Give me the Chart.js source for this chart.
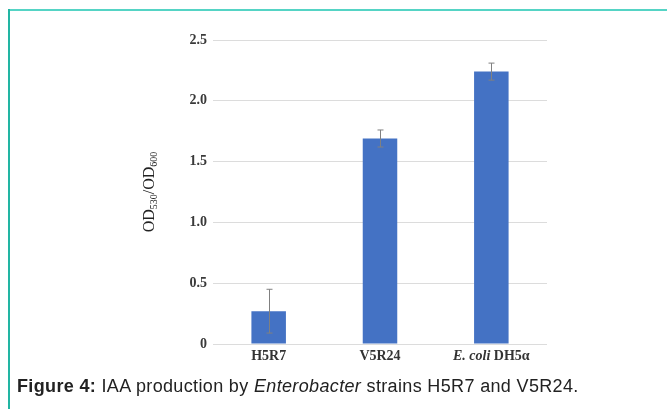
<!DOCTYPE html>
<html>
<head>
<meta charset="utf-8">
<script src="https://cdn.jsdelivr.net/npm/chart.js@4/dist/chart.umd.min.js"></script>
<style>
  html, body { margin: 0; padding: 0; background: #fff; }
  #wrap { position: relative; width: 667px; height: 409px; overflow: hidden; }
  #frameTop { position: absolute; left: 8px; top: 9px; width: 659px; height: 2px; background: #55d4c5; }
  #frameLeft { position: absolute; left: 8px; top: 9px; width: 2px; height: 400px; background: #22b5a3; }
  #c { position: absolute; left: 0; top: 0; }
  #caption { position: absolute; left: 17px; top: 375px; font-family: "Liberation Sans", Arial, sans-serif; font-size: 18px; letter-spacing: 0.35px; color: #222; white-space: nowrap; line-height: 22px; }
</style>
</head>
<body>
<div id="wrap">
  <canvas id="c" width="667" height="409"></canvas>
  <div id="frameTop"></div>
  <div id="frameLeft"></div>
  <div id="caption"><b>Figure 4:</b> IAA production by <i>Enterobacter</i> strains H5R7 and V5R24.</div>
</div>
<script>
const categories = ["H5R7", "V5R24", "E. coli DH5α"];
const italicPrefixes = ["", "", "E. coli"];
const values = [0.27, 1.69, 2.24];
const errors = [0.18, 0.07, 0.07];
const yTicks = [0, 0.5, 1.0, 1.5, 2.0, 2.5];
const yTickLabels = ["0", "0.5", "1.0", "1.5", "2.0", "2.5"];

const serif = '"Liberation Serif", "DejaVu Serif", serif';

const errorBars = {
  id: 'errorBars',
  afterDatasetsDraw(chart) {
    const ctx = chart.ctx;
    const y = chart.scales.y;
    const meta = chart.getDatasetMeta(0);
    ctx.save();
    ctx.strokeStyle = '#808080';
    ctx.lineWidth = 1;
    meta.data.forEach((bar, i) => {
      const x = Math.round(bar.x) + 0.5;
      const top = y.getPixelForValue(values[i] + errors[i]);
      const bot = y.getPixelForValue(values[i] - errors[i]);
      ctx.beginPath();
      ctx.moveTo(x, top); ctx.lineTo(x, bot);
      ctx.moveTo(x - 3, top); ctx.lineTo(x + 3, top);
      ctx.moveTo(x - 3, bot); ctx.lineTo(x + 3, bot);
      ctx.stroke();
    });
    ctx.restore();
  }
};

const xLabels = {
  id: 'xLabels',
  afterDraw(chart) {
    const ctx = chart.ctx;
    const xs = chart.scales.x;
    const yPos = chart.chartArea.bottom + 12;
    ctx.save();
    ctx.fillStyle = '#333';
    ctx.textBaseline = 'middle';
    categories.forEach((label, i) => {
      const cx = xs.getPixelForTick(i);
      const it = italicPrefixes[i];
      const rest = it ? label.slice(it.length) : label;
      ctx.font = 'italic bold 14px ' + serif;
      const wi = it ? ctx.measureText(it).width : 0;
      ctx.font = 'bold 14px ' + serif;
      const wr = ctx.measureText(rest).width;
      let x = cx - (wi + wr) / 2;
      ctx.textAlign = 'left';
      if (it) {
        ctx.font = 'italic bold 14px ' + serif;
        ctx.fillText(it, x, yPos);
        x += wi;
      }
      ctx.font = 'bold 14px ' + serif;
      ctx.fillText(rest, x, yPos);
    });
    ctx.restore();
  }
};

const axisTitle = {
  id: 'axisTitle',
  afterDraw(chart) {
    const ctx = chart.ctx;
    const area = chart.chartArea;
    const parts = [["OD", 16, 0], ["530", 10, 3], ["/OD", 16, 0], ["600", 10, 3]];
    ctx.save();
    ctx.fillStyle = '#222';
    let total = 0;
    parts.forEach(p => { ctx.font = p[1] + 'px ' + serif; total += ctx.measureText(p[0]).width; });
    ctx.translate(154, (area.top + area.bottom) / 2 + 0);
    ctx.rotate(-Math.PI / 2);
    let x = -total / 2;
    ctx.textBaseline = 'alphabetic';
    parts.forEach(p => {
      ctx.font = p[1] + 'px ' + serif;
      ctx.fillText(p[0], x, p[2]);
      x += ctx.measureText(p[0]).width;
    });
    ctx.restore();
  }
};

new Chart(document.getElementById('c'), {
  type: 'bar',
  data: {
    labels: categories,
    datasets: [{
      data: values,
      backgroundColor: '#4472c4',
      borderWidth: 0,
      barPercentage: 0.62,
      categoryPercentage: 0.5
    }]
  },
  options: {
    responsive: false,
    animation: false,
    devicePixelRatio: 1,
    layout: { padding: { top: 40, right: 120, left: 0, bottom: 0 } },
    plugins: { legend: { display: false }, tooltip: { enabled: false }, title: { display: false } },
    scales: {
      x: {
        grid: { display: false, drawTicks: false },
        border: { display: false },
        ticks: { display: false },
        afterFit: s => { s.height = 65; }
      },
      y: {
        min: 0, max: 2.5,
        afterBuildTicks: s => { s.ticks = yTicks.map(v => ({ value: v })); },
        grid: { color: '#dcdcdc', drawTicks: false, lineWidth: 1 },
        border: { display: false },
        ticks: {
          padding: 6,
          color: '#3a3a3a',
          font: { family: serif, size: 14, weight: 'bold' },
          callback: function(v) { const i = yTicks.indexOf(v); return i >= 0 ? yTickLabels[i] : ''; }
        },
        afterFit: s => { s.width = 213; }
      }
    }
  },
  plugins: [errorBars, xLabels, axisTitle]
});
</script>
</body>
</html>
